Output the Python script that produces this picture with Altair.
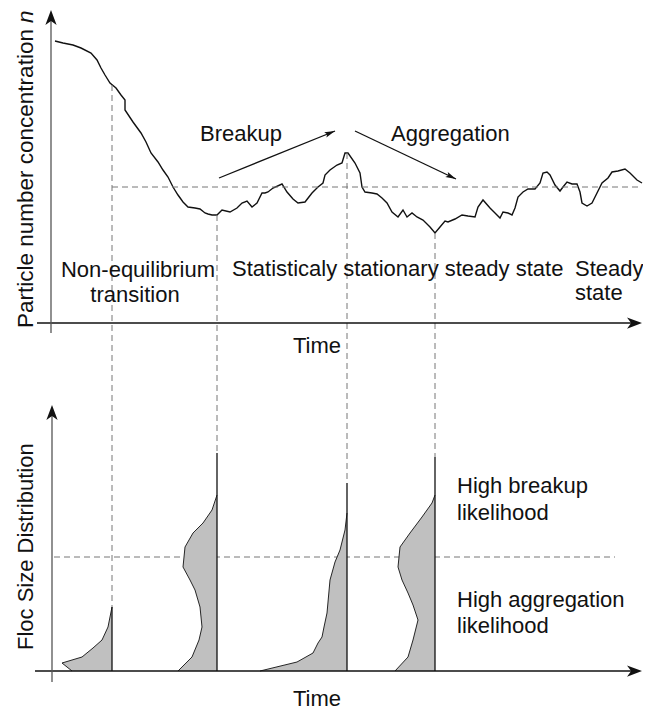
import altair as alt
import pandas as pd

# ---------------- data (drawing units = image pixels) -------------
# particle number concentration curve n(t)  (upper panel)
curve_t = [55, 63, 73, 81, 91, 97, 101, 105, 110, 116, 121, 125, 125, 133, 141, 146, 151, 158,
           163, 168, 173, 178, 183, 188, 195, 200, 205, 208, 212, 217, 222, 230, 237, 242, 247,
           252, 257, 262, 265, 268, 273, 282, 287, 293, 298, 305, 312, 318, 323, 325, 330, 337,
           342, 345, 348, 355, 360, 362, 365, 372, 377, 382, 387, 392, 398, 403, 407, 412, 417,
           423, 430, 435, 440, 445, 448, 455, 462, 468, 475, 478, 483, 490, 495, 500, 503, 508,
           512, 515, 518, 523, 528, 535, 540, 543, 547, 550, 555, 560, 563, 567, 572, 577, 580,
           582, 587, 592, 597, 602, 608, 612, 618, 625, 630, 637, 642]
curve_n = [41, 43, 45, 48, 53, 60, 68, 75, 83, 88, 95, 100, 110, 122, 133, 142, 153, 162,
           170, 177, 187, 195, 202, 207, 208, 209, 213, 214, 215, 215, 210, 212, 208, 203, 201,
           207, 203, 193, 193, 192, 188, 184, 192, 199, 203, 202, 193, 187, 183, 175, 170, 165,
           163, 153, 153, 163, 173, 187, 192, 193, 194, 198, 203, 212, 217, 210, 217, 213, 217,
           220, 227, 233, 227, 221, 222, 219, 215, 216, 217, 207, 200, 208, 213, 218, 212, 213,
           215, 208, 197, 192, 189, 189, 183, 173, 172, 175, 185, 191, 187, 182, 184, 184, 192,
           203, 206, 203, 193, 183, 178, 172, 171, 169, 173, 180, 183]

# floc size distributions (lower panel): time position, top of the size axis, left edge
dist_time = [112, 217, 347, 435]
dist_top = [607, 453, 483, 457]
dist_size = [
    [671, 663, 657, 648, 640, 627, 607],
    [671, 657, 640, 627, 607, 590, 580, 567, 547, 533, 523, 510, 495],
    [671, 662, 653, 643, 637, 627, 613, 580, 562, 550, 530, 513],
    [671, 657, 640, 620, 605, 593, 580, 567, 547, 533, 517, 503, 495],
]
dist_freq = [
    [72, 62, 82, 93, 102, 108, 112],
    [178, 192, 199, 202, 200, 195, 190, 183, 185, 193, 203, 212, 217],
    [260, 297, 313, 318, 322, 324, 327, 330, 335, 340, 345, 347],
    [395, 408, 413, 418, 413, 408, 402, 398, 400, 410, 422, 432, 435],
]
# curve values at the sampled times
mark_n = [85, 215, 153, 233]

# reference (mean) levels
mean_level_top = 187
split_level_bottom = 557

# text labels
phase_labels = ["Non-equilibrium", "transition"]
stat_label = "Statisticaly stationary steady state"
steady_labels = ["Steady", "state"]
process_labels = ["Breakup", "Aggregation"]
likelihood_labels = ["High breakup", "likelihood", "High aggregation", "likelihood"]
time_label = "Time"
ylabel_top = "Particle number concentration"
ylabel_top_sym = "n"
ylabel_bottom = "Floc Size Distribution"

# ---------------- scales --------------------------------------------------------------
W, H = 635, 704
xs = alt.Scale(domain=[8, 643], nice=False, zero=False)
ys = alt.Scale(domain=[8, 712], nice=False, zero=False, reverse=True)
FONT = "Liberation Sans"
FS = 22


def X(f):
    return alt.X(f, type="quantitative", scale=xs, axis=None)


def Y(f):
    return alt.Y(f, type="quantitative", scale=ys, axis=None)


layers = []

# ---- curve ----
cdf = pd.DataFrame({"t": curve_t, "n": curve_n, "i": list(range(len(curve_t)))})
layers.append(alt.Chart(cdf).mark_line(color="#111", strokeWidth=1.4).encode(
    x=X("t"), y=Y("n"), order="i:Q"))

# ---- dashed guide lines ----
dash_rows = []
for tt, nn, top in zip(dist_time, mark_n, dist_top):
    dash_rows.append(dict(x=tt, y=nn, x2=tt, y2=top))
dash_rows.append(dict(x=112, y=mean_level_top, x2=638, y2=mean_level_top))
dash_rows.append(dict(x=54, y=split_level_bottom, x2=615, y2=split_level_bottom))
ddf = pd.DataFrame(dash_rows)
layers.append(alt.Chart(ddf).mark_rule(color="#777", strokeWidth=1, strokeDash=[6, 4]).encode(
    x=X("x"), y=Y("y"), x2="x2:Q", y2="y2:Q"))

# ---- distributions ----
rows = []
for g, (x0, ss, ff) in enumerate(zip(dist_time, dist_size, dist_freq)):
    for k, (s, f) in enumerate(zip(ss, ff)):
        rows.append(dict(g=g, k=k, s=s, f=f, x0=x0))
adf = pd.DataFrame(rows)
layers.append(alt.Chart(adf).mark_area(orient="horizontal", color="#c0c0c0", opacity=1).encode(
    y=Y("s"), x=X("f"), x2="x0:Q", detail="g:N"))
layers.append(alt.Chart(adf).mark_line(color="#111", strokeWidth=0.9).encode(
    x=X("f"), y=Y("s"), detail="g:N", order="k:Q"))
vdf = pd.DataFrame({"x": dist_time, "y": [671] * 4, "y2": dist_top})
layers.append(alt.Chart(vdf).mark_rule(color="#111", strokeWidth=1.3).encode(
    x=X("x"), y=Y("y"), y2="y2:Q"))

# ---- axes ----
ax_x = alt.Chart(pd.DataFrame(dict(x=[37, 35], x2=[636, 636], y=[323, 671]))).mark_rule(
    color="#111", strokeWidth=1.4).encode(x=X("x"), x2="x2:Q", y=Y("y"))
ax_y = alt.Chart(pd.DataFrame(dict(x=[51, 52], y=[333, 682], y2=[16, 411]))).mark_rule(
    color="#555", strokeWidth=1.3).encode(x=X("x"), y=Y("y"), y2="y2:Q")
layers += [ax_x, ax_y]

ARROW = "M0,0 L-0.75,2 L0,1.45 L0.75,2 Z"
heads = pd.DataFrame(dict(x=[51, 52, 642, 642], y=[10, 405, 323, 671], a=[0, 0, 90, 90]))
layers.append(alt.Chart(heads).mark_point(shape=ARROW, filled=True, color="#111", opacity=1,
                                          size=225, strokeWidth=0).encode(
    x=X("x"), y=Y("y"), angle=alt.Angle("a:Q", scale=None)))

# ---- breakup / aggregation arrows ----
arr = pd.DataFrame(dict(x=[219, 355], y=[178, 131], x2=[335, 456], y2=[131, 179]))
layers.append(alt.Chart(arr).mark_rule(color="#111", strokeWidth=1.3).encode(
    x=X("x"), y=Y("y"), x2="x2:Q", y2="y2:Q"))
SMALL = "M0,0 L-0.55,2 L0,1.6 L0.55,2 Z"
sh = pd.DataFrame(dict(x=[335, 456], y=[131, 179], a=[68, 115.4]))
layers.append(alt.Chart(sh).mark_point(shape=SMALL, filled=True, color="#111", opacity=1,
                                       size=110, strokeWidth=0).encode(
    x=X("x"), y=Y("y"), angle=alt.Angle("a:Q", scale=None)))


# ---- texts ----
def text_layer(df, **kw):
    base = dict(font=FONT, fontSize=FS, color="#111", baseline="alphabetic")
    base.update(kw)
    return alt.Chart(df).mark_text(**base).encode(x=X("x"), y=Y("y"), text="label:N")


center_txt = pd.DataFrame(dict(
    label=phase_labels + [time_label, time_label],
    x=[138, 135, 317, 317], y=[277, 302, 353, 706]))
left_txt = pd.DataFrame(dict(
    label=[stat_label] + steady_labels + process_labels + likelihood_labels,
    x=[232, 575, 575, 200, 391, 457, 457, 457, 457],
    y=[276, 276, 300, 141, 141, 493, 520, 607, 633]))
layers.append(text_layer(center_txt, align="center"))
layers.append(text_layer(left_txt, align="left"))

layers.append(text_layer(pd.DataFrame(dict(label=[ylabel_top], x=[33], y=[328])),
                         align="left", angle=270, fontSize=22.5))
layers.append(text_layer(pd.DataFrame(dict(label=[ylabel_bottom], x=[33], y=[650])),
                         align="left", angle=270))
layers.append(text_layer(pd.DataFrame(dict(label=[ylabel_top_sym], x=[33], y=[23])),
                         align="left", angle=270, fontStyle="italic", fontSize=22.5))

chart = alt.layer(*layers).properties(
    width=W, height=H, padding=0,
    autosize=alt.AutoSizeParams(type="none"),
    background="white",
).configure_view(stroke=None)

chart.save("out.html", embed_options={"renderer": "svg", "actions": False})
